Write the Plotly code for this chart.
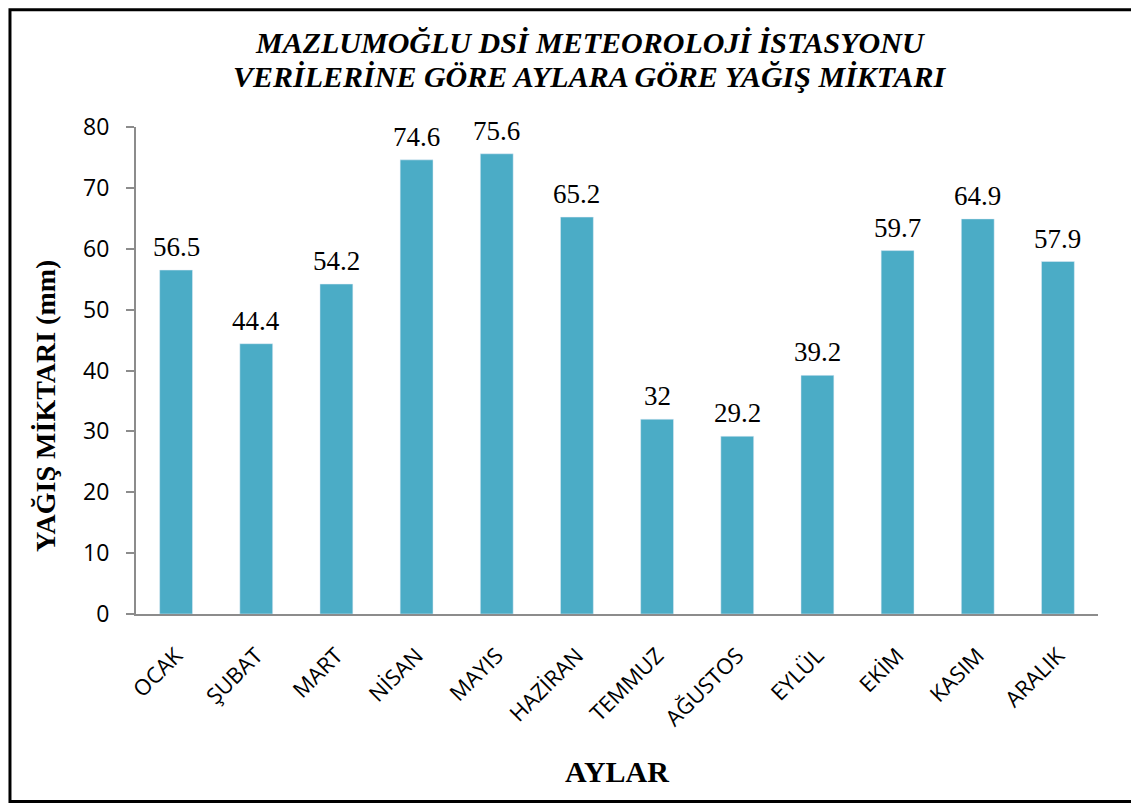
import plotly.graph_objects as go

aylar = ["OCAK", "ŞUBAT", "MART", "NİSAN", "MAYIS", "HAZİRAN",
         "TEMMUZ", "AĞUSTOS", "EYLÜL", "EKİM", "KASIM", "ARALIK"]
yagis = [56.5, 44.4, 54.2, 74.6, 75.6, 65.2, 32, 29.2, 39.2, 59.7, 64.9, 57.9]
etiketler = ["56.5", "44.4", "54.2", "74.6", "75.6", "65.2", "32", "29.2",
             "39.2", "59.7", "64.9", "57.9"]
y_ticks = [0, 10, 20, 30, 40, 50, 60, 70, 80]
baslik = ["MAZLUMOĞLU DSİ METEOROLOJİ İSTASYONU",
          "VERİLERİNE GÖRE AYLARA GÖRE YAĞIŞ MİKTARI"]

serif = "Liberation Serif, Times New Roman, serif"
sans = "Open Sans, Lato, sans-serif"

# page body has an 8px margin, so the figure is a bit smaller than the window
fig = go.Figure(go.Bar(
    x=aylar, y=yagis,
    marker=dict(color="#4BACC6"), width=0.41,
))

# value labels above the bars
for ay, deger, etiket in zip(aylar, yagis, etiketler):
    fig.add_annotation(x=ay, y=deger, text=etiket, showarrow=False,
                       yanchor="bottom", yshift=6,
                       font=dict(family=serif, size=27, color="#000000"))

# two title lines as annotations to get the tighter line spacing
for satir, yy in zip(baslik, [1.1745, 1.1047]):
    fig.add_annotation(text=f"<b><i>{satir}</i></b>", xref="paper", yref="paper",
                       x=0.472, y=yy, xanchor="center", yanchor="middle",
                       showarrow=False, font=dict(family=serif, size=30, color="#000000"))

# y axis title sits a bit below the middle of the plot in the original
fig.add_annotation(text="<b>YAĞIŞ MİKTARI (mm)</b>", xref="paper", yref="paper",
                   x=-0.0946, y=0.427, xanchor="center", yanchor="middle",
                   textangle=-90, showarrow=False,
                   font=dict(family=serif, size=28, color="#000000"))

fig.update_layout(
    width=1131, height=795,
    margin=dict(l=128, r=41, t=119, b=189),
    paper_bgcolor="white", plot_bgcolor="white",
    showlegend=False,
    xaxis=dict(
        showline=True, linecolor="#8c8c8c", linewidth=2,
        ticks="", tickangle=-45, ticklabelstandoff=18,
        tickfont=dict(family=sans, size=22, color="#000000"),
        title=dict(text="<b>AYLAR</b>", font=dict(family=serif, size=30, color="#000000"),
                   standoff=30),
    ),
    yaxis=dict(
        range=[0, 80], tickvals=y_ticks, showgrid=False, zeroline=False,
        showline=True, linecolor="#8c8c8c", linewidth=2,
        ticks="outside", ticklen=8, tickcolor="#8c8c8c", tickwidth=2,
        ticklabelstandoff=12,
        tickfont=dict(family=sans, size=23, color="#000000"),
    ),
    shapes=[dict(type="rect", xref="paper", yref="paper",
                 x0=-0.131, x1=1.06, y0=-0.385, y1=1.241,
                 line=dict(color="#000000", width=3))],
)

fig.write_html("out.html")
